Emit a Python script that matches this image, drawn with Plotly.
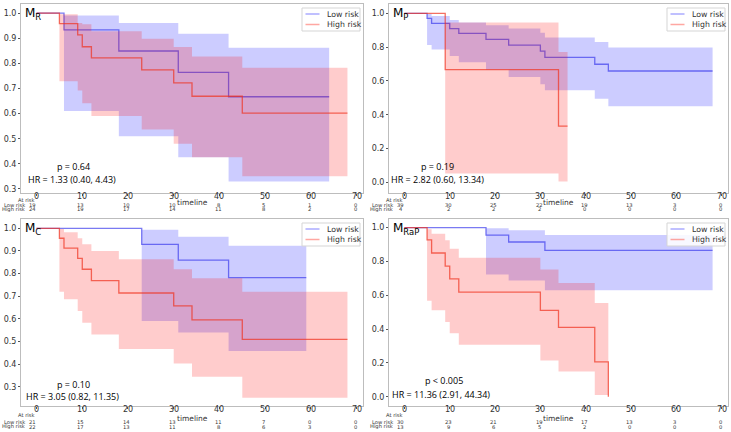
import plotly.graph_objects as go

# ---------------- data ----------------
TICKS_X = [0, 10, 20, 30, 40, 50, 60, 70]

# M_R
mr_low_t = [0, 6, 18, 31, 42, 64]
mr_low_s = [1.0, 0.933, 0.849, 0.764, 0.667, 0.667]
mr_low_hi = [1.0, 0.99, 0.96, 0.918, 0.862, 0.862]
mr_low_lo = [1.0, 0.61, 0.51, 0.426, 0.33, 0.33]
mr_high_t = [0, 5, 9, 10, 12, 23, 30, 34, 45, 68]
mr_high_s = [1.0, 0.958, 0.913, 0.866, 0.822, 0.774, 0.722, 0.669, 0.602, 0.602]
mr_high_hi = [1.0, 0.995, 0.96, 0.955, 0.928, 0.898, 0.865, 0.827, 0.782, 0.782]
mr_high_lo = [1.0, 0.729, 0.692, 0.641, 0.59, 0.537, 0.48, 0.426, 0.351, 0.351]
mr_risk_low = [19, 13, 10, 10, 8, 5, 1, 0]
mr_risk_high = [24, 19, 17, 14, 11, 8, 2, 0]

# M_P
mp_low_t = [0, 5, 6, 10, 12, 18, 23, 30, 31, 42, 45, 68]
mp_low_s = [1.0, 0.97, 0.94, 0.909, 0.881, 0.846, 0.812, 0.776, 0.739, 0.699, 0.659, 0.659]
mp_low_hi = [1.0, 0.996, 0.984, 0.96, 0.945, 0.93, 0.91, 0.885, 0.857, 0.83, 0.798, 0.798]
mp_low_lo = [1.0, 0.812, 0.786, 0.747, 0.711, 0.667, 0.624, 0.58, 0.545, 0.495, 0.45, 0.45]
mp_high_t = [0, 9, 34, 36]
mp_high_s = [1.0, 0.667, 0.333, 0.333]
mp_high_hi = [1.0, 0.945, 0.772, 0.772]
mp_high_lo = [1.0, 0.053, 0.006, 0.006]
mp_risk_low = [39, 30, 25, 22, 19, 13, 3, 0]
mp_risk_high = [4, 2, 2, 2, 0, 0, 0, 0]

# M_C
mc_low_t = [0, 23, 31, 42, 59]
mc_low_s = [1.0, 0.929, 0.859, 0.782, 0.782]
mc_low_hi = [1.0, 0.993, 0.963, 0.923, 0.923]
mc_low_lo = [1.0, 0.59, 0.54, 0.458, 0.458]
mc_high_t = [0, 5, 6, 9, 10, 12, 18, 30, 34, 45, 68]
mc_high_s = [1.0, 0.956, 0.912, 0.867, 0.819, 0.769, 0.714, 0.657, 0.595, 0.509, 0.509]
mc_high_hi = [1.0, 0.997, 0.982, 0.956, 0.929, 0.9, 0.863, 0.819, 0.779, 0.72, 0.72]
mc_high_lo = [1.0, 0.72, 0.686, 0.634, 0.583, 0.531, 0.467, 0.403, 0.344, 0.251, 0.251]
mc_risk_low = [21, 15, 14, 13, 11, 7, 0, 0]
mc_risk_high = [22, 17, 13, 11, 8, 6, 3, 0]

# M_RaP
mrap_low_t = [0, 18, 23, 31, 68]
mrap_low_s = [1.0, 0.956, 0.915, 0.865, 0.865]
mrap_low_hi = [1.0, 0.996, 0.984, 0.956, 0.956]
mrap_low_lo = [1.0, 0.723, 0.687, 0.63, 0.63]
mrap_high_t = [0, 5, 6, 9, 10, 12, 30, 34, 42, 45]
mrap_high_s = [1.0, 0.927, 0.85, 0.772, 0.697, 0.618, 0.511, 0.41, 0.206, 0.0]
mrap_high_hi = [1.0, 0.99, 0.964, 0.925, 0.875, 0.822, 0.752, 0.673, 0.554, 0.554]
mrap_high_lo = [1.0, 0.568, 0.511, 0.442, 0.376, 0.307, 0.214, 0.149, 0.01, 0.01]
mrap_risk_low = [30, 23, 21, 19, 17, 13, 3, 0]
mrap_risk_high = [13, 9, 6, 5, 2, 0, 0, 0]

titles = ["M<sub>R</sub>", "M<sub>P</sub>", "M<sub>C</sub>", "M<sub>RaP</sub>"]
p_texts = ["p = 0.64", "p = 0.19", "p = 0.10", "p < 0.005"]
hr_texts = ["HR = 1.33 (0.40, 4.43)", "HR = 2.82 (0.60, 13.34)",
            "HR = 3.05 (0.82, 11.35)", "HR = 11.36 (2.91, 44.34)"]
group_names = ["Low risk", "High risk"]
risk_row_labels = ["At risk", "Low risk", "High risk"]

panels_data = [
    (mr_low_t, mr_low_s, mr_low_hi, mr_low_lo, mr_high_t, mr_high_s, mr_high_hi, mr_high_lo, mr_risk_low, mr_risk_high),
    (mp_low_t, mp_low_s, mp_low_hi, mp_low_lo, mp_high_t, mp_high_s, mp_high_hi, mp_high_lo, mp_risk_low, mp_risk_high),
    (mc_low_t, mc_low_s, mc_low_hi, mc_low_lo, mc_high_t, mc_high_s, mc_high_hi, mc_high_lo, mc_risk_low, mc_risk_high),
    (mrap_low_t, mrap_low_s, mrap_low_hi, mrap_low_lo, mrap_high_t, mrap_high_s, mrap_high_hi, mrap_high_lo, mrap_risk_low, mrap_risk_high),
]

# ---------------- layout / style ----------------
W, H = 731, 432
boxes = [(21, 363, 4, 193), (389, 728, 4, 193), (21, 363, 219, 406), (389, 728, 219, 406)]
yranges = [[0.284, 1.036], [-0.062, 1.055], [0.2147, 1.041], [-0.055, 1.051]]
ydticks = [0.1, 0.2, 0.1, 0.2]
ytick0 = [0.3, 0.0, 0.3, 0.0]
xrange_ = [-3.4, 71.4]
p_pos = [(52, -26.5), (48, -27), (52, -22), (55, -25.5)]
hr_pos = [(50.5, -14), (48, -13.5), (51, -10), (52, -11.5)]
xtick_dy = [3, 3, 3.5, 3.5]
table_rows_dy = [[6.8, 11.6, 16.3], [6.8, 11.6, 16.3], [9.3, 15.5, 20.8], [9.3, 15.5, 20.8]]
timeline_dy = [9, 9, 12.5, 12.5]

BLUE_FILL = "rgba(0,0,255,0.2)"
RED_FILL = "rgba(255,0,0,0.2)"
BLUE_LINE = "rgba(50,50,235,0.65)"
RED_LINE = "rgba(240,50,30,0.7)"
BLUE_LEG = "rgba(90,90,255,0.5)"
RED_LEG = "rgba(255,80,70,0.5)"
TXT = "#333333"


def px(x):
    return x / W


def py(y):
    return 1 - y / H


fig = go.Figure()
annotations = []
shapes = []
layout_axes = {}

for i, data in enumerate(panels_data):
    (lt, ls, lhi, llo, ht, hs, hhi, hlo, rl, rh) = data
    k = i + 1
    xa = "x" if k == 1 else f"x{k}"
    ya = "y" if k == 1 else f"y{k}"
    xkey = "xaxis" if k == 1 else f"xaxis{k}"
    ykey = "yaxis" if k == 1 else f"yaxis{k}"
    L, R, T, B = boxes[i]

    for (t, s, hi, lo, fcol, lcol) in [(lt, ls, lhi, llo, BLUE_FILL, BLUE_LINE),
                                         (ht, hs, hhi, hlo, RED_FILL, RED_LINE)]:
        fig.add_trace(go.Scatter(x=t, y=lo, mode="lines", line=dict(width=0, shape="hv"),
                                 xaxis=xa, yaxis=ya, showlegend=False, hoverinfo="skip"))
        fig.add_trace(go.Scatter(x=t, y=hi, mode="lines", line=dict(width=0, shape="hv"),
                                 fill="tonexty", fillcolor=fcol,
                                 xaxis=xa, yaxis=ya, showlegend=False, hoverinfo="skip"))
        fig.add_trace(go.Scatter(x=t, y=s, mode="lines", line=dict(width=1.3, color=lcol, shape="hv"),
                                 xaxis=xa, yaxis=ya, showlegend=False))

    yt = []
    v = ytick0[i]
    while v <= 1.0001:
        yt.append(round(v, 2))
        v += ydticks[i]

    layout_axes[xkey] = dict(domain=[px(L), px(R)], range=xrange_, anchor=ya,
                             tickvals=TICKS_X, ticks="outside", ticklen=2, tickcolor="#555",
                             showticklabels=False,
                             showline=True, mirror=True, linecolor="#bdbdbd", linewidth=1,
                             showgrid=False, zeroline=False)
    layout_axes[ykey] = dict(domain=[py(B), py(T)], range=yranges[i], anchor=xa,
                             tickvals=yt, ticktext=[f"{y:.1f}" for y in yt],
                             ticks="outside", ticklen=2, tickcolor="#555",
                             showline=True, mirror=True, linecolor="#bdbdbd", linewidth=1,
                             showgrid=False, zeroline=False,
                             tickfont=dict(size=8, color=TXT, family="DejaVu Sans"))

    # x tick labels
    for tx in TICKS_X:
        annotations.append(dict(x=tx, y=py(B + xtick_dy[i]), xref=xa, yref="paper", text=str(tx),
                                showarrow=False, xanchor="center", yanchor="middle",
                                font=dict(size=8, color=TXT, family="DejaVu Sans")))

    # panel title
    annotations.append(dict(x=px(L + 1.5), y=py(T + 10), xref="paper", yref="paper",
                            text=titles[i], showarrow=False, xanchor="left", yanchor="middle",
                            font=dict(size=12, color="black", family="DejaVu Sans")))
    # p and HR
    annotations.append(dict(x=px(L + p_pos[i][0]), y=py(B + p_pos[i][1]), xref="paper", yref="paper",
                            text=p_texts[i], showarrow=False, xanchor="center", yanchor="middle",
                            font=dict(size=9, color="black", family="Open Sans")))
    annotations.append(dict(x=px(L + hr_pos[i][0]), y=py(B + hr_pos[i][1]), xref="paper", yref="paper",
                            text=hr_texts[i], showarrow=False, xanchor="center", yanchor="middle",
                            font=dict(size=9, color="black", family="Open Sans")))
    # timeline label
    annotations.append(dict(x=px((L + R) / 2), y=py(B + timeline_dy[i]), xref="paper", yref="paper",
                            text="timeline", showarrow=False, xanchor="center", yanchor="middle",
                            font=dict(size=7.5, color=TXT, family="DejaVu Sans")))
    # at-risk table
    rows_y = [py(B + d) for d in table_rows_dy[i]]
    tfont = dict(size=5.2, color=TXT, family="DejaVu Sans")
    annotations.append(dict(x=-0.2, y=rows_y[0], xref=xa, yref="paper", text=risk_row_labels[0],
                            showarrow=False, xanchor="right", yanchor="middle", font=tfont))
    for r, counts in enumerate([rl, rh]):
        annotations.append(dict(x=-2.0, y=rows_y[r + 1], xref=xa, yref="paper", text=risk_row_labels[r + 1],
                                showarrow=False, xanchor="right", yanchor="middle", font=tfont))
        for j, (tx, c) in enumerate(zip(TICKS_X, counts)):
            xx = tx - 0.8 if j == 0 else tx - 0.3
            annotations.append(dict(x=xx, y=rows_y[r + 1], xref=xa, yref="paper", text=str(c),
                                    showarrow=False, xanchor="center", yanchor="middle", font=tfont))

    # legend (drawn)
    lr = R - 3
    lt_ = T + 4
    ll = lr - 58
    lb = lt_ + 23
    shapes.append(dict(type="rect", xref="paper", yref="paper", x0=px(ll), x1=px(lr), y0=py(lb), y1=py(lt_),
                       line=dict(color="#d5d5d5", width=1), fillcolor="rgba(255,255,255,0.85)", layer="above"))
    for r, (nm, col) in enumerate(zip(group_names, [BLUE_LEG, RED_LEG])):
        yy = lt_ + 6 + r * 10.5
        shapes.append(dict(type="line", xref="paper", yref="paper", x0=px(ll + 3.5), x1=px(ll + 17.5),
                           y0=py(yy), y1=py(yy), line=dict(color=col, width=1.5), layer="above"))
        annotations.append(dict(x=px(ll + 23), y=py(yy), xref="paper", yref="paper", text=nm,
                                showarrow=False, xanchor="left", yanchor="middle",
                                font=dict(size=7.8, color=TXT, family="DejaVu Sans")))

fig.update_layout(width=W, height=H, margin=dict(l=0, r=0, t=0, b=0),
                  paper_bgcolor="white", plot_bgcolor="white",
                  font=dict(family="DejaVu Sans"),
                  annotations=annotations, shapes=shapes, showlegend=False, **layout_axes)

fig.write_html("out.html")
